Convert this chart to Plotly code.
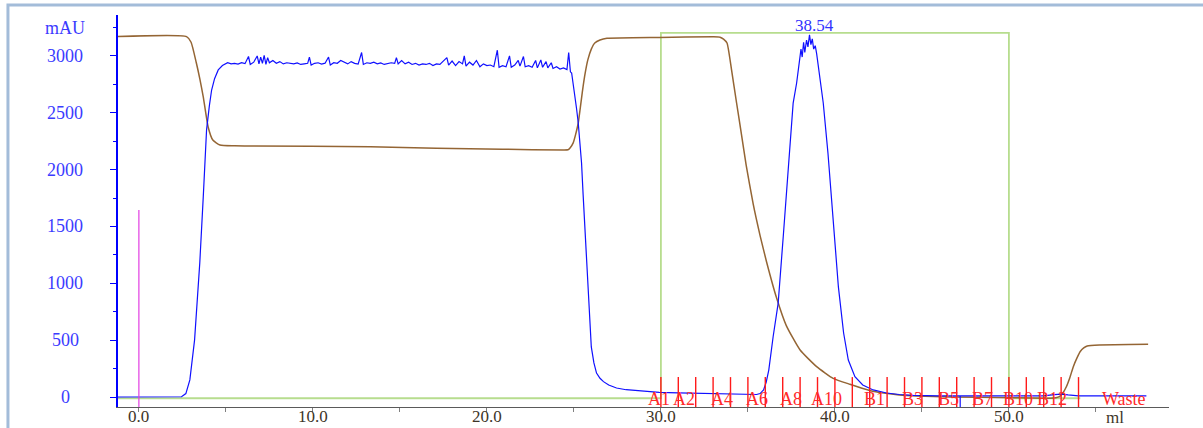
import plotly.graph_objects as go

# ---------------- data ----------------
uv_ml = [-1.2, 2.0, 2.45, 2.7, 2.93, 3.2, 3.5, 3.7, 3.89, 4.05, 4.18, 4.35, 4.56, 4.8, 5.1,
         5.3, 5.5, 5.7, 5.9, 6.1, 6.3, 6.4, 6.6, 6.8, 6.9, 7.0, 7.1, 7.2, 7.3, 7.4, 7.5, 7.7, 7.9,
         8.1, 8.3, 8.5, 8.7, 8.9, 9.1, 9.3, 9.5, 9.7, 9.8, 9.9, 10.1, 10.3, 10.5, 10.7, 10.9, 11.0,
         11.2, 11.4, 11.6, 11.8, 12.0, 12.2, 12.4, 12.6, 12.8, 12.9, 13.1, 13.3, 13.5, 13.7, 13.9,
         14.1, 14.3, 14.5, 14.7, 14.8, 14.9, 15.1, 15.3, 15.5, 15.7, 15.9, 16.1, 16.3, 16.5, 16.7,
         16.9, 17.1, 17.3, 17.5, 17.7, 17.8, 18.0, 18.2, 18.4, 18.6, 18.7, 18.8, 19.0, 19.2, 19.4,
         19.6, 19.8, 20.0, 20.2, 20.4, 20.6, 20.7, 20.9, 21.1, 21.3, 21.4, 21.6, 21.8, 21.9, 22.1,
         22.2, 22.4, 22.6, 22.8, 22.9, 23.1, 23.2, 23.4, 23.5, 23.7, 23.8, 24.0, 24.2, 24.4, 24.6,
         24.7, 24.8, 24.87, 24.96, 25.06, 25.15, 25.25, 25.35, 25.44, 25.53, 25.63, 25.73, 25.83,
         25.92, 26.0, 26.15, 26.3, 26.5, 26.7, 27.0, 27.45, 28.0, 28.8, 29.9, 31.0, 32.0, 33.0,
         34.0, 35.0, 35.5, 35.7, 35.9, 36.05, 36.2, 36.45, 36.74, 37.03, 37.3, 37.6, 37.8, 37.95,
         38.05, 38.12, 38.2, 38.27, 38.37, 38.45, 38.54, 38.62, 38.7, 38.78, 38.87, 38.95, 39.14,
         39.33, 39.6, 39.9, 40.2, 40.5, 40.77, 41.15, 41.6, 42.2, 42.97, 43.7, 44.5, 46.0, 48.0,
         50.0, 52.0, 52.6, 53.0, 53.4, 54.0, 56.0, 57.9]
uv_mau = [0, 0, 2, 30, 150, 500, 1180, 1760, 2350, 2560, 2700, 2800, 2877, 2915, 2940,
          2930, 2935, 2928, 2940, 2932, 2995, 2925, 2945, 3000, 2930, 2990, 2935, 3005, 2925, 2985,
          2940, 2960, 2935, 2950, 2930, 2940, 2935, 2930, 2938, 2925, 2930, 2935, 2990, 2920, 2935,
          2940, 2928, 2936, 2990, 2920, 2940, 2935, 2960, 2945, 2930, 2950, 2935, 2928, 3030, 2925,
          2940, 2935, 2945, 2930, 2938, 2925, 2932, 2940, 2935, 2985, 2930, 2960, 2930, 2945, 2925,
          2935, 2920, 2930, 2925, 2935, 2915, 2930, 2925, 2960, 2985, 2920, 2955, 2915, 2950, 2930,
          3000, 2910, 2945, 2920, 2960, 2905, 2930, 2915, 2920, 2905, 3050, 2900, 2915, 2905, 3000,
          2900, 2920, 2960, 2910, 2995, 2905, 2915, 2900, 2960, 2895, 2965, 2900, 2950, 2895, 2940,
          2890, 2905, 2885, 2895, 2880, 3030, 2860, 2850, 2760, 2642, 2540, 2410, 2250, 2058, 1780,
          1470, 1170, 880, 640, 440, 300, 210, 165, 135, 105, 79, 64, 53, 41, 37, 33, 28,
          24, 22, 22, 30, 62, 130, 237, 530, 826, 1410, 1997, 2585, 2762, 2960,
          3060, 2990, 3120, 3030, 3140, 3080, 3185, 3100, 3150, 3060, 3090, 3020, 2789,
          2586, 2146, 1557, 968, 563, 325, 179, 106, 62, 35, 22, 15, 10, 9,
          9, 10, 20, 26, 18, 10, 9, 9]

cond_ml = [-1.2, 2.74, 3.0, 3.3, 3.5, 3.7, 3.98, 4.25, 4.66, 5.5, 6.4, 13.3, 17.1, 20.9, 24.4,
           24.66, 24.8, 24.96, 25.1, 25.25, 25.5, 25.65, 25.8, 26.0, 26.2, 26.5, 26.9, 29.9, 33.0,
           33.4, 33.6, 33.8, 34.06, 34.35, 34.64, 34.9, 35.3, 35.7, 36.07, 36.65, 37.2, 38.0, 38.95,
           39.9, 40.86, 42.0, 42.8, 43.7, 44.7, 46.6, 50.0, 52.4, 52.7, 52.9, 53.1, 53.3, 53.5, 53.7,
           53.9, 54.1, 54.3, 54.5, 55.2, 58.0]
cond_val = [3170, 3170, 3120, 2940, 2800, 2640, 2375, 2260, 2217, 2210, 2208, 2202, 2188, 2179, 2173,
            2175, 2195, 2235, 2310, 2410, 2700, 2850, 2965, 3060, 3114, 3140, 3155, 3163, 3168,
            3165, 3148, 3114, 2877, 2586, 2300, 2040, 1700, 1420, 1190, 870, 630, 413, 267,
            164, 112, 58, 35, 18, 9, 0, -6, -10, -6, 3, 35, 90, 170, 267,
            340, 400, 432, 449, 457, 463]

method_ml = [-1.2, 30.0, 30.0, 50.0, 50.0, 54.1]
method_val = [-11, -11, 3202, 3202, -11, -11]

fraction_marks = [30, 31, 32, 33, 34, 35, 36, 37, 38, 39, 40, 41, 42, 43, 44, 45,
                  46, 47, 48, 49, 50, 51, 52, 53, 54]
fraction_labels = ["A1", "A2", "A4", "A6", "A8", "A10", "B1", "B3", "B5", "B7", "B10", "B12", "Waste"]
fraction_label_ml = [29.9, 31.3, 33.5, 35.5, 37.47, 39.5, 42.3, 44.45, 46.5, 48.5, 50.5, 52.45, 56.6]

injection_ml = [0.0]
injection_top = 1645
event_ml = [47.2]

peak_ml = 38.54
peak_label = "38.54"

x_tickvals = [0, 5, 10, 15, 20, 25, 30, 35, 40, 45, 50, 55]
x_ticktext = ["0.0", "", "10.0", "", "20.0", "", "30.0", "", "40.0", "", "50.0", ""]
y_tickvals = [0, 500, 1000, 1500, 2000, 2500, 3000, 3250]
y_ticktext = ["0", "500", "1000", "1500", "2000", "2500", "3000", "mAU"]
x_unit = "ml"

# ---------------- figure ----------------
X_RANGE = [-1.2, 59.2]
Y_RANGE = [-88, 3360]
SERIF = "Liberation Serif, Times New Roman, serif"

fig = go.Figure()

# method / gradient outline (light green)
fig.add_trace(go.Scatter(x=method_ml, y=method_val, mode="lines",
                         line=dict(color="#b7dd8e", width=1.8), hoverinfo="skip"))

# conductivity (brown)
fig.add_trace(go.Scatter(x=cond_ml, y=cond_val, mode="lines",
                         line=dict(color="#946534", width=1.5, shape="spline", smoothing=0.5),
                         hoverinfo="skip"))

# UV (blue)
fig.add_trace(go.Scatter(x=uv_ml, y=uv_mau, mode="lines",
                         line=dict(color="#1010ff", width=1.2), hoverinfo="skip"))

# fraction marks (red)
fx, fy = [], []
for m in fraction_marks:
    fx += [m, m, None]
    fy += [Y_RANGE[0], 175, None]
fig.add_trace(go.Scatter(x=fx, y=fy, mode="lines",
                         line=dict(color="#ff1a1a", width=1.4), hoverinfo="skip"))

# injection mark (magenta)
ix, iy = [], []
for m in injection_ml:
    ix += [m, m, None]
    iy += [Y_RANGE[0], injection_top, None]
fig.add_trace(go.Scatter(x=ix, y=iy, mode="lines",
                         line=dict(color="#e23de2", width=1.2), hoverinfo="skip"))

# event mark (blue)
ex, ey = [], []
for m in event_ml:
    ex += [m, m, None]
    ey += [Y_RANGE[0], 8, None]
fig.add_trace(go.Scatter(x=ex, y=ey, mode="lines",
                         line=dict(color="#1010ff", width=1.2), hoverinfo="skip"))

annotations = []
# y tick labels, centred like the original
for v, t in zip(y_tickvals, y_ticktext):
    annotations.append(dict(x=-0.05, xref="paper", y=v, yref="y", text=t, showarrow=False,
                            xanchor="center", yanchor="middle",
                            font=dict(family=SERIF, size=18, color="#3b3bff")))
# x tick labels, placed close under the axis like the original
for v, t in zip(x_tickvals, x_ticktext):
    if t:
        annotations.append(dict(x=v, xref="x", y=-0.0255, yref="paper", text=t, showarrow=False,
                                xanchor="center", yanchor="middle",
                                font=dict(family=SERIF, size=17, color="#3d3528")))
# fraction labels
for t, xm in zip(fraction_labels, fraction_label_ml):
    annotations.append(dict(x=xm, y=-14, xref="x", yref="y", text=t, showarrow=False,
                            xanchor="center", yanchor="middle",
                            font=dict(family=SERIF, size=18, color="#ff2a2a")))
# peak label
annotations.append(dict(x=peak_ml, y=3272, xref="x", yref="y", text=peak_label, showarrow=False,
                        xanchor="center", yanchor="middle", xshift=5,
                        font=dict(family=SERIF, size=17, color="#3333ff")))
# x unit
annotations.append(dict(x=56.1, y=-0.028, xref="x", yref="paper", text=x_unit, showarrow=False,
                        xanchor="center", yanchor="middle",
                        font=dict(family=SERIF, size=17, color="#3d3528")))

shapes = [dict(type="rect", xref="paper", yref="paper",
               x0=-0.1047, x1=1.05, y0=-0.2, y1=1.0255,
               line=dict(color="#a3bcd9", width=3), fillcolor="rgba(0,0,0,0)", layer="below")]

fig.update_layout(
    width=1203, height=428, autosize=False,
    margin=dict(l=118, r=34, t=15, b=21, pad=0),
    paper_bgcolor="white", plot_bgcolor="white",
    showlegend=False,
    annotations=annotations,
    shapes=shapes,
    xaxis=dict(range=X_RANGE, showgrid=False, zeroline=False, automargin=False,
               showline=True, linecolor="#5a5a5a", linewidth=1,
               ticks="outside", ticklen=4, tickcolor="#808080",
               tickmode="array", tickvals=x_tickvals, showticklabels=False),
    yaxis=dict(range=Y_RANGE, showgrid=False, zeroline=False, automargin=False,
               showline=True, linecolor="#0000ff", linewidth=1.5,
               ticks="outside", ticklen=6, tickcolor="#0000ff",
               tickmode="array", tickvals=[0, 500, 1000, 1500, 2000, 2500, 3000],
               showticklabels=False,
               minor=dict(dtick=250, tick0=0, ticks="outside", ticklen=3.5, tickcolor="#0000ff")),
)

fig.write_html("out.html",
               config={"displayModeBar": False},
               post_script="document.body.style.margin='0';document.body.style.overflow='hidden';")
